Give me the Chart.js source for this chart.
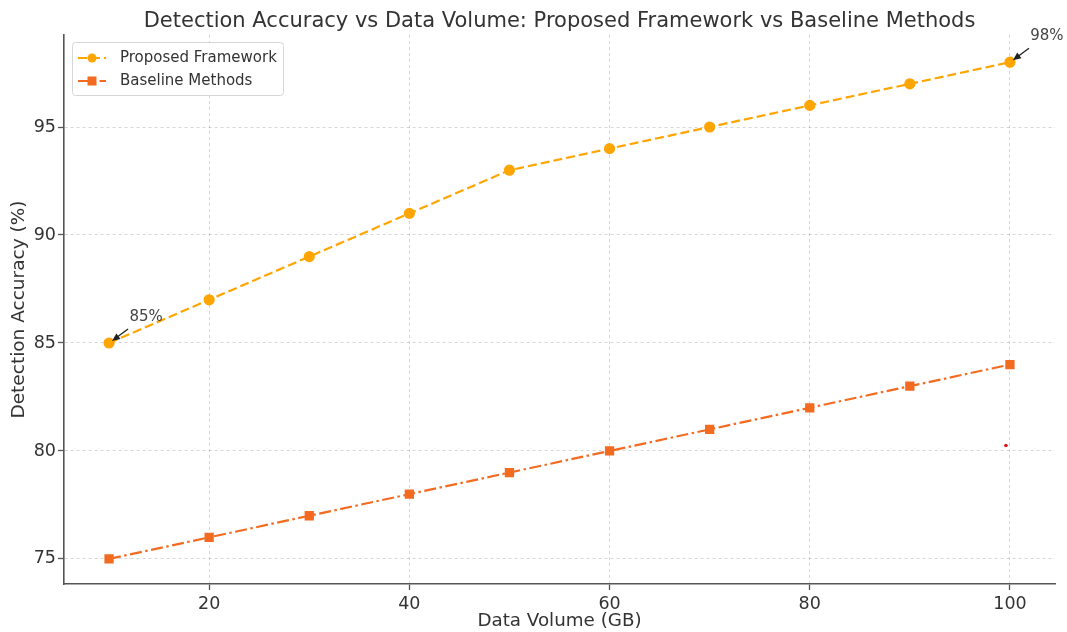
<!DOCTYPE html>
<html>
<head>
<meta charset="utf-8">
<script src="https://cdn.jsdelivr.net/npm/chart.js@4/dist/chart.umd.min.js"></script>
<style>
  html, body { margin: 0; padding: 0; background: #ffffff; }
  #wrap { width: 1067px; height: 632px; }
</style>
</head>
<body>
<div id="wrap"><canvas id="c" width="1067" height="632"></canvas></div>
<script>
// Data volume (GB) and detection accuracy (%) for each approach
const dataVolumes = [10, 20, 30, 40, 50, 60, 70, 80, 90, 100];
const proposedAccuracy = [85, 87, 89, 91, 93, 94, 95, 96, 97, 98];
const baselineAccuracy = [75, 76, 77, 78, 79, 80, 81, 82, 83, 84];
const xTicks = [20, 40, 60, 80, 100];
const yTicks = [75, 80, 85, 90, 95];
const strayMark = [{ x: 99.6, y: 80.25 }];
// Callouts: which series and which point get a percentage label
const callouts = [
  { series: 0, index: 0, text: '85%' },
  { series: 0, index: 9, text: '98%' }
];

const FONT = "'DejaVu Sans', 'Liberation Sans', sans-serif";
const PROPOSED_COLOR = '#ffa500';
const BASELINE_COLOR = '#f26b21';

// Legend drawn as line + marker samples
const legendPlugin = {
  id: 'lineLegend',
  afterDraw(chart) {
    const ctx = chart.ctx;
    const area = chart.chartArea;
    const x0 = area.left + 8, y0 = area.top + 7, w = 211, h = 53;
    ctx.save();
    ctx.fillStyle = 'rgba(255,255,255,0.85)';
    ctx.strokeStyle = '#d6d6d6';
    ctx.lineWidth = 1;
    ctx.beginPath();
    ctx.roundRect(x0 + 0.5, y0 + 0.5, w, h, 3);
    ctx.fill();
    ctx.stroke();
    const items = chart.data.datasets.filter(d => d.inLegend);
    items.forEach((ds, i) => {
      const cy = y0 + 16 + i * 23;
      ctx.strokeStyle = ds.borderColor;
      ctx.lineWidth = ds.borderWidth;
      ctx.setLineDash(ds.borderDash || []);
      ctx.beginPath();
      ctx.moveTo(x0 + 6, cy);
      ctx.lineTo(x0 + 34, cy);
      ctx.stroke();
      ctx.setLineDash([]);
      ctx.fillStyle = ds.pointBackgroundColor;
      if (ds.pointStyle === 'rect') {
        ctx.fillRect(x0 + 20 - 4.5, cy - 4.5, 9, 9);
      } else {
        ctx.beginPath();
        ctx.arc(x0 + 20, cy, 4.5, 0, Math.PI * 2);
        ctx.fill();
      }
      ctx.fillStyle = '#333333';
      ctx.font = '15px ' + FONT;
      ctx.textBaseline = 'middle';
      ctx.textAlign = 'left';
      ctx.fillText(ds.label, x0 + 48, cy);
    });
    ctx.restore();
  }
};

// Percentage callouts with small arrows pointing at the data points
const calloutPlugin = {
  id: 'callouts',
  afterDatasetsDraw(chart) {
    const ctx = chart.ctx;
    const xs = chart.scales.x, ys = chart.scales.y;
    const series = [proposedAccuracy, baselineAccuracy];
    ctx.save();
    callouts.forEach(c => {
      const px = xs.getPixelForValue(dataVolumes[c.index]);
      const py = ys.getPixelForValue(series[c.series][c.index]);
      ctx.fillStyle = '#444444';
      ctx.font = '15px ' + FONT;
      ctx.textAlign = 'center';
      ctx.textBaseline = 'middle';
      ctx.fillText(c.text, px + 37, py - 26);
      const sx = px + 19, sy = py - 14, ex = px + 3, ey = py - 2;
      const ang = Math.atan2(ey - sy, ex - sx);
      ctx.strokeStyle = '#222222';
      ctx.lineWidth = 1.3;
      ctx.beginPath();
      ctx.moveTo(sx, sy);
      ctx.lineTo(ex - 4 * Math.cos(ang), ey - 4 * Math.sin(ang));
      ctx.stroke();
      ctx.fillStyle = '#222222';
      ctx.beginPath();
      ctx.moveTo(ex, ey);
      ctx.lineTo(ex - 8 * Math.cos(ang) + 3.5 * Math.sin(ang), ey - 8 * Math.sin(ang) - 3.5 * Math.cos(ang));
      ctx.lineTo(ex - 8 * Math.cos(ang) - 3.5 * Math.sin(ang), ey - 8 * Math.sin(ang) + 3.5 * Math.cos(ang));
      ctx.closePath();
      ctx.fill();
    });
    ctx.restore();
  }
};

const toXY = (xsArr, ysArr) => xsArr.map((x, i) => ({ x, y: ysArr[i] }));

new Chart(document.getElementById('c'), {
  type: 'line',
  data: {
    datasets: [
      {
        label: 'Proposed Framework',
        inLegend: true,
        data: toXY(dataVolumes, proposedAccuracy),
        borderColor: PROPOSED_COLOR,
        backgroundColor: PROPOSED_COLOR,
        pointBackgroundColor: PROPOSED_COLOR,
        pointBorderColor: PROPOSED_COLOR,
        borderWidth: 2.2,
        borderDash: [9, 4],
        pointStyle: 'circle',
        pointRadius: 4.5,
        pointHoverRadius: 4.5,
        tension: 0
      },
      {
        label: 'Baseline Methods',
        inLegend: true,
        data: toXY(dataVolumes, baselineAccuracy),
        borderColor: BASELINE_COLOR,
        backgroundColor: BASELINE_COLOR,
        pointBackgroundColor: BASELINE_COLOR,
        pointBorderColor: BASELINE_COLOR,
        borderWidth: 2.2,
        borderDash: [12, 3.5, 2.5, 3.5],
        pointStyle: 'rect',
        pointRadius: 5,
        pointHoverRadius: 5,
        tension: 0
      },
      {
        label: 'mark',
        inLegend: false,
        type: 'scatter',
        data: strayMark,
        showLine: false,
        pointBackgroundColor: '#e0141e',
        pointBorderColor: '#e0141e',
        pointRadius: 1.8,
        pointBorderWidth: 0
      }
    ]
  },
  options: {
    responsive: false,
    devicePixelRatio: 1,
    animation: false,
    layout: { padding: { left: 0, right: 12, top: 0, bottom: 0 } },
    plugins: {
      legend: { display: false },
      tooltip: { enabled: false },
      title: {
        display: true,
        fullSize: false,
        text: 'Detection Accuracy vs Data Volume: Proposed Framework vs Baseline Methods',
        color: '#333333',
        font: { family: FONT, size: 21, weight: 'normal', lineHeight: 1.2 },
        padding: { top: 9, bottom: 0.8 }
      }
    },
    scales: {
      x: {
        type: 'linear',
        min: 5.5,
        max: 104.5,
        afterBuildTicks: ax => { ax.ticks = xTicks.map(v => ({ value: v })); },
        afterFit: ax => { ax.height = 48; },
        grid: {
          color: 'rgba(0,0,0,0.16)',
          lineWidth: 1,
          drawTicks: true,
          tickLength: 6,
          tickColor: '#555555',
          tickWidth: 1.3
        },
        border: { display: true, color: '#555555', width: 1.6, dash: [3, 3] },
        ticks: {
          color: '#333333',
          font: { family: FONT, size: 17.5 },
          padding: 4,
          maxRotation: 0,
          callback: v => String(v)
        },
        title: {
          display: true,
          text: 'Data Volume (GB)',
          color: '#333333',
          font: { family: FONT, size: 18.3 },
          padding: { top: 0, bottom: 0 }
        }
      },
      y: {
        type: 'linear',
        min: 73.84,
        max: 99.26,
        afterBuildTicks: ax => { ax.ticks = yTicks.map(v => ({ value: v })); },
        afterFit: ax => { ax.width = 64; },
        grid: {
          color: 'rgba(0,0,0,0.16)',
          lineWidth: 1,
          drawTicks: true,
          tickLength: 6,
          tickColor: '#555555',
          tickWidth: 1.3
        },
        border: { display: true, color: '#555555', width: 1.6, dash: [3, 3] },
        ticks: {
          color: '#333333',
          font: { family: FONT, size: 17.5 },
          padding: 2,
          callback: v => String(v)
        },
        title: {
          display: true,
          text: 'Detection Accuracy (%)',
          color: '#333333',
          font: { family: FONT, size: 18.5 },
          padding: { top: 8, bottom: 0 }
        }
      }
    }
  },
  plugins: [legendPlugin, calloutPlugin]
});
</script>
</body>
</html>
